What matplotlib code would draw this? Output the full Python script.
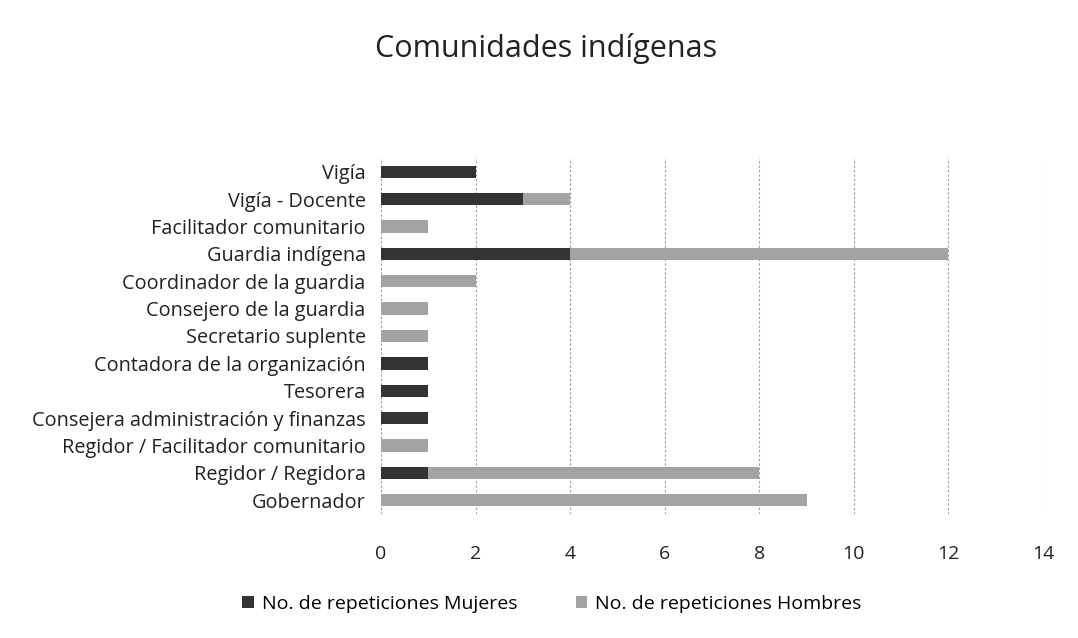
import matplotlib
matplotlib.use("Agg")
import matplotlib.pyplot as plt
import numpy as np

plt.rcParams['font.family'] = ['Open Sans', 'DejaVu Sans']

categorias = ["Vigía", "Vigía - Docente", "Facilitador comunitario", "Guardia indígena",
              "Coordinador de la guardia", "Consejero de la guardia", "Secretario suplente",
              "Contadora de la organización", "Tesorera", "Consejera administración y finanzas",
              "Regidor / Facilitador comunitario", "Regidor / Regidora", "Gobernador"]
mujeres = [2, 3, 0, 4, 0, 0, 0, 1, 1, 1, 0, 1, 0]
hombres = [0, 1, 1, 8, 2, 1, 1, 0, 0, 0, 1, 7, 9]
xticks = [0, 2, 4, 6, 8, 10, 12, 14]

fig = plt.figure(figsize=(10.78, 6.38), dpi=100)
ax = fig.add_axes([381/1078, 1-514/638, (1043-381)/1078, (514-158)/638])

y = np.arange(len(categorias))
ax.barh(y, mujeres, height=0.45, color="#333333", label="No. de repeticiones Mujeres", zorder=3)
ax.barh(y, hombres, left=mujeres, height=0.45, color="#a3a3a3", label="No. de repeticiones Hombres", zorder=3)

ax.set_yticks(y)
ax.set_yticklabels(categorias, fontsize=14.3, color="#222222")
ax.set_ylim(len(categorias) - 0.5, -0.5)
ax.set_xlim(0, 14)
ax.set_xticks(xticks)
ax.set_xticklabels([str(t) for t in xticks], fontsize=14, color="#222222")
ax.tick_params(axis='y', length=0, pad=11)
ax.tick_params(axis='x', length=0, pad=22)
ax.grid(axis='x', color="#999999", linestyle=(0, (2, 2)), linewidth=0.8, zorder=0)
for s in ax.spines.values():
    s.set_visible(False)

fig.text(0.507, 1-48/638, "Comunidades indígenas", ha="center", va="center", fontsize=22, color="#222222")

handles, labels = ax.get_legend_handles_labels()
fig.legend(handles, labels, loc="center", bbox_to_anchor=(0.512, 1-604/638), ncol=2,
           frameon=False, fontsize=14, handlelength=0.6, handleheight=0.6,
           columnspacing=3.0, handletextpad=0.4)

fig.savefig("out.png", dpi=100, facecolor="white")
